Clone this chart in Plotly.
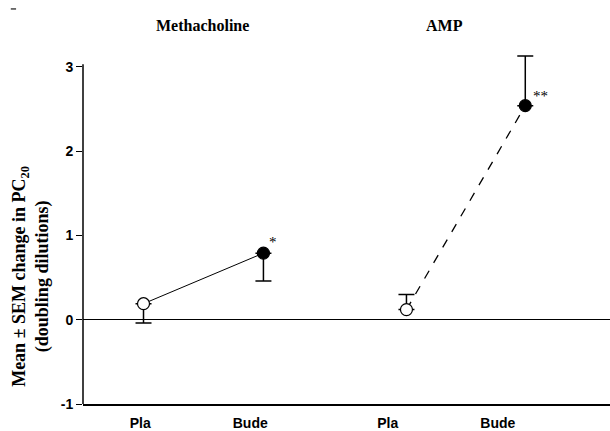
import plotly.graph_objects as go

# ---- data ----
tick_labels = ["Pla", "Bude", "Pla", "Bude"]
tick_pos = [1.0, 2.0, 3.25, 4.25]

mch_x = [1.03, 2.12]
mch_y = [0.19, 0.79]
mch_err_up = [0.0, 0.0]
mch_err_down = [0.23, 0.33]

amp_x = [3.42, 4.50]
amp_y = [0.12, 2.54]
amp_err_up = [0.18, 0.59]
amp_err_down = [0.0, 0.0]

group_titles = ["Methacholine", "AMP"]
group_title_x = [1.57, 3.77]

sig_labels = ["*", "**"]
sig_x = [2.15, 4.55]
sig_y = [0.92, 2.66]

serif = "Liberation Serif"
sans = "Liberation Sans"

fig = go.Figure()

fig.add_trace(go.Scatter(
    x=mch_x, y=mch_y, mode="lines+markers",
    line=dict(color="black", width=1),
    marker=dict(size=12, color=["white", "black"], line=dict(color="black", width=1.2)),
    error_y=dict(type="data", symmetric=False, array=mch_err_up, arrayminus=mch_err_down,
                 color="black", thickness=1.5, width=8),
    showlegend=False,
))
fig.add_trace(go.Scatter(
    x=amp_x, y=amp_y, mode="lines+markers",
    line=dict(color="black", width=1.3, dash="9px,9px"),
    marker=dict(size=12, color=["white", "black"], line=dict(color="black", width=1.2)),
    error_y=dict(type="data", symmetric=False, array=amp_err_up, arrayminus=amp_err_down,
                 color="black", thickness=1.5, width=8),
    showlegend=False,
))

# y axis line (drawn as shape so error bars can extend above it)
fig.add_shape(type="line", xref="paper", yref="y", x0=0, x1=0, y0=-1, y1=3.03,
              line=dict(color="black", width=1.5))
# small scan mark at top-left corner
fig.add_shape(type="line", xref="paper", yref="paper", x0=-0.137, x1=-0.127,
              y0=1.116, y1=1.116, line=dict(color="#444", width=1.5))

for t, x in zip(group_titles, group_title_x):
    fig.add_annotation(text="<b>" + t + "</b>", x=x, xref="x", y=1.10, yref="paper",
                       showarrow=False, font=dict(family=serif, size=16, color="black"),
                       xanchor="center")

for t, x, y in zip(sig_labels, sig_x, sig_y):
    fig.add_annotation(text=t, x=x, y=y, showarrow=False, xanchor="left",
                       font=dict(family=serif, size=15, color="#000000"))

fig.add_annotation(
    text="<b>Mean ± SEM change in PC<sub>20</sub></b><br><b>(doubling dilutions)</b>",
    textangle=-90, xref="paper", yref="paper", x=-0.10, y=0.36,
    xanchor="center", yanchor="middle", showarrow=False,
    font=dict(family=serif, size=18, color="black"),
)

fig.update_layout(
    width=610, height=431,
    margin=dict(l=83, r=0, t=50, b=27),
    plot_bgcolor="white", paper_bgcolor="white",
    xaxis=dict(range=[0.48, 5.27], tickvals=tick_pos,
               ticktext=["<b>" + t + "</b>" for t in tick_labels],
               showgrid=False, zeroline=False, showline=True, linecolor="black",
               linewidth=1.5, ticks="", ticklabelstandoff=5,
               tickfont=dict(family=sans, size=14, color="black")),
    yaxis=dict(range=[-1, 3.2], tickvals=[-1, 0, 1, 2, 3],
               ticktext=["<b>-1</b>", "<b>0</b>", "<b>1</b>", "<b>2</b>", "<b>3</b>"],
               showgrid=False, zeroline=True, zerolinecolor="black", zerolinewidth=1.3,
               showline=False, ticks="outside", ticklen=6, tickwidth=1.2, tickcolor="black",
               tickfont=dict(family=sans, size=14, color="black")),
)

fig.write_html("out.html")
